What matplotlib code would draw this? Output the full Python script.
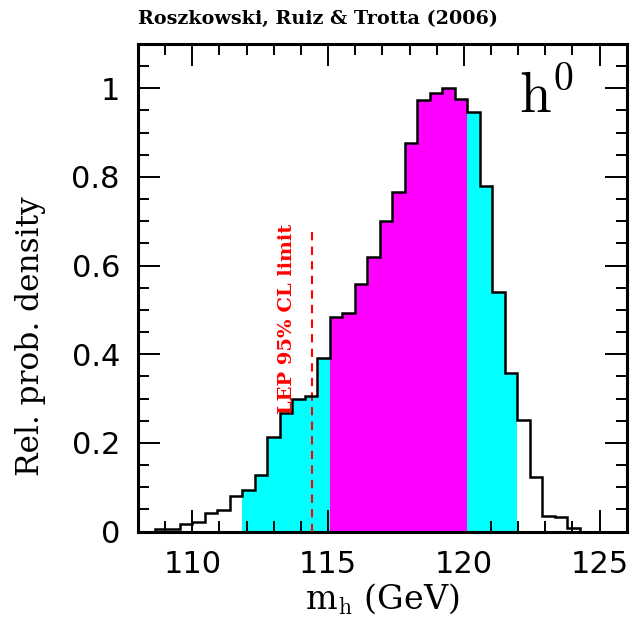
import numpy as np
import matplotlib
matplotlib.use("Agg")
import matplotlib.pyplot as plt
from matplotlib.ticker import MultipleLocator

plt.rcParams["mathtext.fontset"] = "cm"

# ---- data ----
bin_start = 108.61   # GeV, left edge of first bin
bin_width = 0.4604   # GeV
density = [0.005, 0.005, 0.016, 0.022, 0.042, 0.048, 0.080, 0.094, 0.128,
           0.213, 0.267, 0.300, 0.305, 0.391, 0.483, 0.494, 0.558, 0.619,
           0.701, 0.766, 0.877, 0.974, 0.989, 1.000, 0.975, 0.947, 0.780,
           0.540, 0.358, 0.252, 0.124, 0.035, 0.032, 0.009]
cyan_bins = (7, 29)      # 95% region (bin index range)
magenta_bins = (14, 25)  # 68% region
lep_limit = 114.4
lep_top = 0.69
xticks = [110, 115, 120, 125]
yticks = [0, 0.2, 0.4, 0.6, 0.8, 1]
ytick_labels = ["0", "0.2", "0.4", "0.6", "0.8", "1"]

density = np.array(density)
edges = bin_start + bin_width * np.arange(len(density) + 1)

fig = plt.figure(figsize=(6.34, 6.32), dpi=100)
ax = fig.add_axes([138 / 634, 1 - 531.5 / 632, (626.7 - 138) / 634, (531.5 - 44) / 632])

c0, c1 = cyan_bins
m0, m1 = magenta_bins
ax.stairs(density[c0:c1], edges[c0:c1 + 1], fill=True, color="#00ffff", lw=0, zorder=1)
ax.stairs(density[m0:m1], edges[m0:m1 + 1], fill=True, color="#ff00ff", lw=0, zorder=2)
ax.plot([lep_limit, lep_limit], [0, lep_top], color="red", lw=1.5,
        linestyle=(0, (4, 3)), zorder=3)
ax.stairs(density, edges, color="black", lw=1.8, zorder=4)

ax.set_xlim(108, 126)
ax.set_ylim(0, 1.1)
ax.set_xticks(xticks)
ax.set_xticklabels([str(t) for t in xticks])
ax.set_yticks(yticks)
ax.set_yticklabels(ytick_labels)
ax.xaxis.set_minor_locator(MultipleLocator(1))
ax.yaxis.set_minor_locator(MultipleLocator(0.05))
ax.tick_params(which="both", direction="in", top=True, right=True, width=1.4)
ax.tick_params(which="major", length=16, labelsize=22, pad=13)
ax.tick_params(which="minor", length=8)
for lab in ax.get_xticklabels() + ax.get_yticklabels():
    lab.set_family("DejaVu Sans")
for s in ax.spines.values():
    s.set_linewidth(2.2)

ax.text(-0.220, 0.40, "Rel. prob. density", transform=ax.transAxes, rotation=90,
        ha="center", va="center", fontsize=22.5, family="DejaVu Serif")
ax.text(0.50, -0.140, r"m$_\mathrm{h}$ (GeV)", transform=ax.transAxes,
        ha="center", va="center", fontsize=24, family="DejaVu Serif")
ax.text(113.5, 0.48, "LEP 95% CL limit", rotation=90, ha="center", va="center",
        color="red", fontsize=14, fontweight="bold", family="DejaVu Serif", zorder=5)
ax.text(122.05, 0.944, r"$\mathrm{h}^0$", ha="left", va="baseline", fontsize=41, zorder=5)
fig.text(138 / 634, 1 - 19 / 632, "Roszkowski, Ruiz & Trotta (2006)", ha="left",
         va="center", fontsize=13.8, fontweight="bold", family="DejaVu Serif")

fig.savefig("out.png", dpi=100)
